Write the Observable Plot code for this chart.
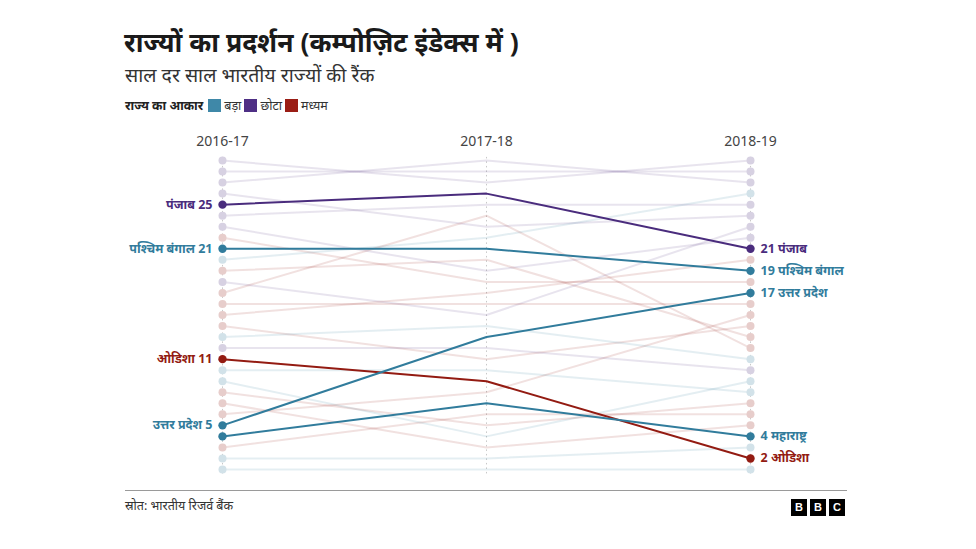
<!DOCTYPE html>
<html>
<head>
<meta charset="utf-8">
<script src="https://cdn.jsdelivr.net/npm/d3@7"></script>
<script src="https://cdn.jsdelivr.net/npm/@observablehq/plot@0.6"></script>
<style>
  html, body { margin: 0; padding: 0; background: #fff; }
  body { width: 976px; height: 549px; position: relative; overflow: hidden;
         font-family: "Noto Sans", "Noto Sans Devanagari", "Lohit Devanagari", sans-serif; color: #222; }
  #title { position: absolute; left: 124px; top: 24px; font-size: 26.5px; font-weight: 700; color: #1a1a1a; white-space: nowrap; }
  #subtitle { position: absolute; left: 125px; top: 61px; font-size: 19.5px; color: #333; white-space: nowrap; }
  #legend { position: absolute; left: 125px; top: 97px; font-size: 12.5px; color: #333; display: flex; align-items: center; white-space: nowrap; }
  #legend b { margin-right: 5px; color: #222; }
  #legend .sw { display: inline-block; width: 13px; height: 13px; margin-right: 3px; }
  #legend .lab { margin-right: 3px; }
  #chart { position: absolute; left: 0; top: 118px; }
  #rule { position: absolute; left: 125px; top: 490px; width: 722px; height: 0; border-top: 1px solid #9a9a9a; }
  #source { position: absolute; left: 125px; top: 497px; font-size: 12.5px; color: #333; white-space: nowrap; }
  #bbc { position: absolute; left: 791px; top: 499px; display: flex; gap: 3px; }
  #bbc span { display: inline-block; width: 16px; height: 17px; background: #000; color: #fff; font: 700 11px "Liberation Sans", Arial, sans-serif; text-align: center; line-height: 17px; }
</style>
</head>
<body>
<div id="title">राज्यों का प्रदर्शन (कम्पोज़िट इंडेक्स में )</div>
<div id="subtitle">साल दर साल भारतीय राज्यों की रैंक</div>
<div id="legend"></div>
<div id="chart"></div>
<div id="rule"></div>
<div id="source">स्रोत: भारतीय रिजर्व बैंक</div>
<div id="bbc"><span>B</span><span>B</span><span>C</span></div>
<script>
// ---- data ----
const years = ["2016-17", "2017-18", "2018-19"];
const sizeLabels = ["बड़ा", "छोटा", "मध्यम"];
const sizeColors = ["#317c9c", "#4a2c7d", "#931b12"];
const legendColors = ["#3f88a8", "#4e2f85", "#9a1d15"];
const legendTitle = "राज्य का आकार";

// one entry per state (ordered by 2016-17 rank); "" = unlabeled state
const stateNames = ["", "", "", "", "पंजाब", "", "", "", "पश्चिम बंगाल", "", "", "", "", "", "", "", "", "", "ओडिशा", "", "", "", "", "", "उत्तर प्रदेश", "महाराष्ट्र", "", "", ""];
const stateSize = ["छोटा","छोटा","छोटा","छोटा","छोटा","छोटा","छोटा","मध्यम","बड़ा","बड़ा","मध्यम","छोटा","मध्यम","मध्यम","मध्यम","मध्यम","बड़ा","छोटा","मध्यम","बड़ा","बड़ा","मध्यम","मध्यम","मध्यम","बड़ा","बड़ा","मध्यम","बड़ा","बड़ा"];
const rank2016 = [29, 28, 27, 26, 25, 24, 23, 22, 21, 20, 19, 18, 17, 16, 15, 14, 13, 12, 11, 10, 9, 8, 7, 6, 5, 4, 3, 2, 1];
const rank2017 = [27, 28, 29, 23, 26, 25, 19, 18, 21, 22, 20, 15, 24, 16, 17, 11, 14, 12, 9, 10, 4, 5, 3, 8, 13, 7, 6, 2, 1];
const rank2018 = [29, 28, 27, 24, 21, 25, 22, 18, 19, 26, 13, 23, 12, 16, 20, 14, 11, 10, 2, 8, 9, 7, 5, 15, 17, 4, 6, 3, 1];
const leftLabeled = ["पंजाब", "पश्चिम बंगाल", "ओडिशा", "उत्तर प्रदेश"];

// ---- legend ----
const leg = document.getElementById("legend");
leg.innerHTML = `<b>${legendTitle}</b>` + sizeLabels.map((s, i) =>
  `<span class="sw" style="background:${legendColors[i]}"></span><span class="lab">${s}</span>`).join("");

// ---- build long table ----
const ranksByYear = [rank2016, rank2017, rank2018];
const rows = [];
stateNames.forEach((name, i) => {
  years.forEach((yr, j) => {
    rows.push({id: i, name, size: stateSize[i], year: yr, rank: ranksByYear[j][i], hi: name !== ""});
  });
});
const bg = rows.filter(d => !d.hi);
const hi = rows.filter(d => d.hi);
const ends = d => d.year !== years[1];

const color = {type: "ordinal", domain: sizeLabels, range: sizeColors};
// pale, opaque versions of the category colours for the background dots
const paleOf = Object.fromEntries(sizeLabels.map((s, i) => [s, d3.interpolateRgb("#ffffff", sizeColors[i])(0.22)]));
const font = `"Noto Sans", "Noto Sans Devanagari", sans-serif`;

const chart = Plot.plot({
  width: 976,
  height: 370,
  marginLeft: 222,
  marginRight: 226,
  marginTop: 42,
  marginBottom: 19,
  x: {type: "point", domain: years, padding: 0, axis: null},
  y: {domain: [1, 29], axis: null},
  color,
  style: {fontFamily: font, background: "transparent", overflow: "visible"},
  marks: [
    Plot.ruleX(years, {x: d => d, y1: 0.6, y2: 29.4, stroke: "#c8c8c8", strokeDasharray: "1.5,3", strokeWidth: 1}),
    Plot.text(years, {x: d => d, frameAnchor: "top", dy: -24, text: d => d, fontSize: 14, fill: "#444"}),
    Plot.line(bg, {x: "year", y: "rank", z: "id", stroke: "size", strokeOpacity: 0.13, strokeWidth: 2}),
    Plot.dot(bg.filter(ends), {x: "year", y: "rank", fill: d => paleOf[d.size], r: 4}),
    Plot.line(hi, {x: "year", y: "rank", z: "id", stroke: "size", strokeWidth: 2}),
    Plot.dot(hi.filter(ends), {x: "year", y: "rank", fill: "size", r: 4.2}),
    Plot.text(hi.filter(d => d.year === years[0] && leftLabeled.includes(d.name)), {
      x: "year", y: "rank", text: d => `${d.name} ${d.rank}`, fill: "size",
      textAnchor: "end", dx: -10, fontSize: 12.5, fontWeight: 700
    }),
    Plot.text(hi.filter(d => d.year === years[2]), {
      x: "year", y: "rank", text: d => `${d.rank} ${d.name}`, fill: "size",
      textAnchor: "start", dx: 10, fontSize: 12.5, fontWeight: 700
    })
  ]
});
document.getElementById("chart").appendChild(chart);
</script>
</body>
</html>
